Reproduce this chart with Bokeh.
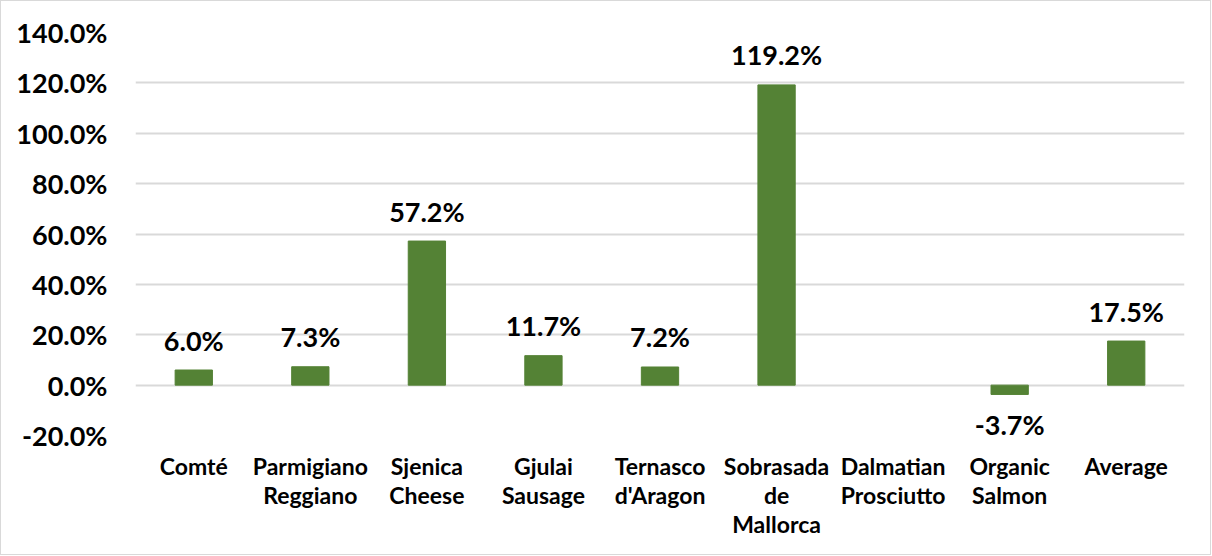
import math
from bokeh.plotting import figure
from bokeh.models import NumeralTickFormatter, FixedTicker, Range1d, CategoricalAxis, FactorRange
from bokeh.core.properties import value
from bokeh.embed import file_html
from bokeh.resources import INLINE

categories = ["Comté", "Parmigiano Reggiano", "Sjenica Cheese", "Gjulai Sausage",
              "Ternasco d'Aragon", "Sobrasada de Mallorca", "Dalmatian Prosciutto",
              "Organic Salmon", "Average"]
axis_labels = [["Comté"], ["Parmigiano", "Reggiano"], ["Sjenica", "Cheese"],
               ["Gjulai", "Sausage"], ["Ternasco", "d'Aragon"], ["Sobrasada", "de", "Mallorca"],
               ["Dalmatian", "Prosciutto"], ["Organic", "Salmon"], ["Average"]]
growth_pct = [6.0, 7.3, 57.2, 11.7, 7.2, 119.2, float("nan"), -3.7, 17.5]
y_ticks = [-0.2, 0.0, 0.2, 0.4, 0.6, 0.8, 1.0, 1.2, 1.4]
y_min, y_max = -0.2, 1.4

FONT = "Lato"
GREEN = "#548235"
GRID = "#d9d9d9"

vals = [v / 100.0 for v in growth_pct]
pos_x, pos_y, pos_t, neg_x, neg_y, neg_t = [], [], [], [], [], []
bar_x, bar_top = [], []
for c, v, pct in zip(categories, vals, growth_pct):
    if math.isnan(v):
        continue
    bar_x.append(c)
    bar_top.append(v)
    if v >= 0:
        pos_x.append(c); pos_y.append(v); pos_t.append(f"{pct:.1f}%")
    else:
        neg_x.append(c); neg_y.append(v); neg_t.append(f"{pct:.1f}%")

p = figure(x_range=FactorRange(factors=categories), y_range=Range1d(y_min, y_max),
           width=1211, height=555,
           output_backend="svg", toolbar_location=None, x_axis_location=None,
           min_border_left=134, min_border_right=28, min_border_top=31, min_border_bottom=121)
p.styles = {"border": "1px solid #d9d9d9", "box-sizing": "border-box"}

p.vbar(x=bar_x, top=bar_top, bottom=0, width=0.32, color=GREEN)

p.text(x=pos_x, y=pos_y, text=pos_t, text_align="center", text_baseline="middle",
       y_offset=-30, text_font=value(FONT), text_font_style="bold",
       text_font_size="27px", text_color="black")
p.text(x=neg_x, y=neg_y, text=neg_t, text_align="center", text_baseline="middle",
       y_offset=30, text_font=value(FONT), text_font_style="bold",
       text_font_size="27px", text_color="black")

# multi-line category labels: one stacked axis (own factor range) per text line
n_lines = max(len(l) for l in axis_labels)
standoffs = [16, -2, -2]
extra = {}
for i in range(n_lines):
    facs = []
    blank = 0
    for l in axis_labels:
        if i < len(l):
            facs.append(l[i])
        else:
            blank += 1
            facs.append(" " * blank)
    extra[f"line{i}"] = FactorRange(factors=facs)
p.extra_x_ranges = extra
for i in range(n_lines):
    ax = CategoricalAxis(x_range_name=f"line{i}")
    ax.axis_line_color = None
    ax.major_tick_line_color = None
    ax.minor_tick_line_color = None
    ax.major_tick_in = 0
    ax.major_tick_out = 0
    ax.major_label_text_font = FONT
    ax.major_label_text_font_style = "bold"
    ax.major_label_text_color = "black"
    ax.major_label_text_font_size = "23px"
    ax.major_label_standoff = standoffs[i]
    p.add_layout(ax, "below")

p.outline_line_color = None
p.xgrid.grid_line_color = None
p.ygrid.grid_line_color = GRID
p.ygrid.grid_line_width = 2
p.yaxis.ticker = FixedTicker(ticks=y_ticks)
p.yaxis.formatter = NumeralTickFormatter(format="0.0%")

ay = p.yaxis[0]
ay.axis_line_color = None
ay.major_tick_line_color = None
ay.minor_tick_line_color = None
ay.major_tick_in = 0
ay.major_tick_out = 0
ay.major_label_text_font = FONT
ay.major_label_text_font_style = "bold"
ay.major_label_text_color = "black"
ay.major_label_text_font_size = "27px"
ay.major_label_standoff = 28

open("out.html", "w").write(file_html(p, INLINE))
